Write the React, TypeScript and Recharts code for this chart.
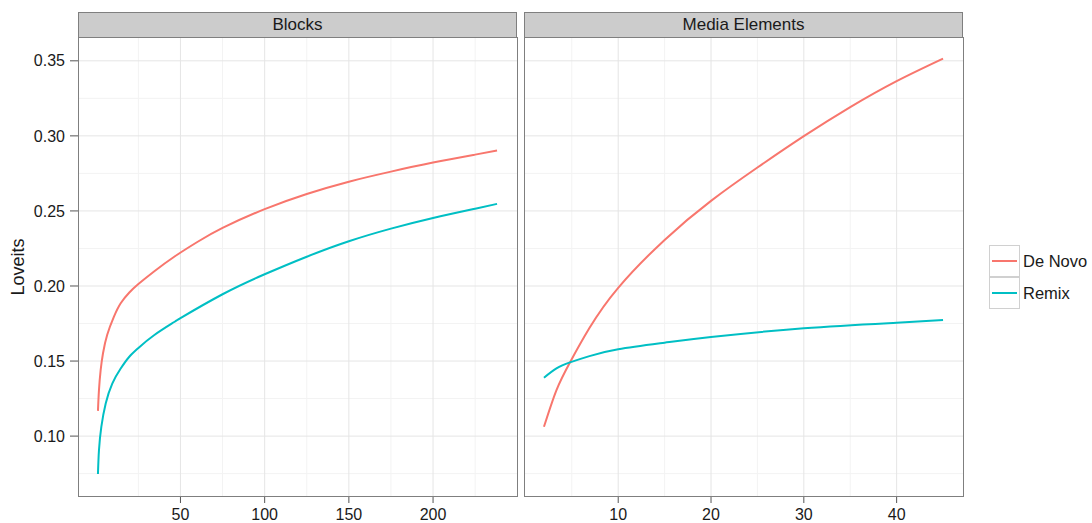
import { CartesianGrid, Line, LineChart, XAxis, YAxis } from 'recharts'

// values
const blocksDeNovoX = [
  1, 1.6, 2.6, 4, 6.5, 10.5, 14.5, 19.5, 25, 34.3, 46.3, 60, 75, 100, 125, 150, 175, 200, 225, 238,
]
const blocksDeNovoY = [
  0.1168, 0.1306, 0.1439, 0.1552, 0.1675, 0.1796, 0.1885, 0.1955, 0.2013, 0.2097, 0.2195, 0.2293,
  0.2387, 0.2512, 0.2613, 0.2695, 0.2762, 0.2822, 0.2875, 0.2902,
]
const blocksRemixX = [
  1, 1.6, 3, 5.6, 9.5, 14.5, 19.5, 25, 34.3, 46.3, 50, 75, 100, 125, 150, 175, 200, 225, 238,
]
const blocksRemixY = [
  0.0748, 0.0906, 0.1061, 0.1217, 0.135, 0.145, 0.1527, 0.1587, 0.1672, 0.176, 0.1786, 0.1945,
  0.2078, 0.2195, 0.2298, 0.2382, 0.2453, 0.2515, 0.2547,
]
const mediaDeNovoX = [2, 3.35, 4.8, 6.9, 10, 15, 20, 25, 30, 35, 40, 45]
const mediaDeNovoY = [
  0.1062, 0.1307, 0.1491, 0.172, 0.1988, 0.2307, 0.2567, 0.2789, 0.2998, 0.3192, 0.3365, 0.3515,
]
const mediaRemixX = [2, 3.35, 4.8, 6.9, 10, 15, 20, 30, 40, 45]
const mediaRemixY = [0.1389, 0.1451, 0.1491, 0.1533, 0.1578, 0.1622, 0.166, 0.1718, 0.1755, 0.1773]

const yTicks = [0.1, 0.15, 0.2, 0.25, 0.3, 0.35]
const yMinor = [0.075, 0.125, 0.175, 0.225, 0.275, 0.325]
const blocksTicks = [50, 100, 150, 200]
const blocksMinor = [25, 75, 125, 175, 225]
const mediaTicks = [10, 20, 30, 40]
const mediaMinor = [5, 15, 25, 35]

const seriesNames = ['De Novo', 'Remix']
const seriesColors = ['#F8766D', '#00BFC4']

const yDomain = [0.0601, 0.3652]
const blocksDomain = [-10.85, 249.85]
const mediaDomain = [-0.15, 47.15]

const FONT = '"Liberation Sans", Arial, Helvetica, sans-serif'
const BORDER = '#7F7F7F'

function pairs(xs: number[], ys: number[]) {
  return xs.map((x, i) => ({ x, y: ys[i] }))
}

interface PanelProps {
  title: string
  left: number
  showY: boolean
  xDomain: number[]
  xTicks: number[]
  xMinor: number[]
  series: { x: number; y: number }[][]
}

const PLOT_TOP = 38
const PLOT_BOTTOM = 496
const PLOT_W = 439
const Y_AXIS_W = 78

function Panel({ title, left, showY, xDomain, xTicks, xMinor, series }: PanelProps) {
  const axisW = showY ? Y_AXIS_W : 0
  const chartW = axisW + PLOT_W + 2
  const plotLeft = left + axisW
  return (
    <>
      <div
        style={{
          position: 'absolute',
          left: plotLeft,
          top: 12,
          width: PLOT_W,
          height: PLOT_TOP - 12,
          boxSizing: 'border-box',
          background: '#CCCCCC',
          border: `1.5px solid ${BORDER}`,
          fontSize: 17,
          color: '#1a1a1a',
          textAlign: 'center',
          lineHeight: `${PLOT_TOP - 15}px`,
        }}
      >
        {title}
      </div>
      <div style={{ position: 'absolute', left, top: 0 }}>
        <LineChart
          width={chartW}
          height={523}
          margin={{ top: PLOT_TOP, right: 2, bottom: 0, left: 0 }}
          style={{ fontFamily: FONT }}
        >
          <CartesianGrid
            stroke="#F3F3F3"
            strokeWidth={1}
            horizontalValues={yMinor}
            verticalValues={xMinor}
          />
          <CartesianGrid
            stroke="#E5E5E5"
            strokeWidth={1}
            horizontalValues={yTicks}
            verticalValues={xTicks}
          />
          <XAxis
            type="number"
            dataKey="x"
            domain={xDomain}
            ticks={xTicks}
            allowDataOverflow
            height={523 - PLOT_BOTTOM}
            axisLine={false}
            tickSize={7}
            tickMargin={6}
            tickLine={{ stroke: '#555555' }}
            tick={{ fontSize: 16, fill: '#1a1a1a' }}
          />
          <YAxis
            type="number"
            dataKey="y"
            hide={!showY}
            domain={yDomain}
            ticks={yTicks}
            allowDataOverflow
            width={axisW}
            axisLine={false}
            tickSize={8}
            tickMargin={5}
            tickLine={{ stroke: '#555555' }}
            tick={{ fontSize: 16, fill: '#1a1a1a' }}
            tickFormatter={(v: number) => v.toFixed(2)}
          />
          {series.map((data, i) => (
            <Line
              key={seriesNames[i]}
              data={data}
              dataKey="y"
              type="natural"
              stroke={seriesColors[i]}
              strokeWidth={2}
              dot={false}
              activeDot={false}
              isAnimationActive={false}
            />
          ))}
        </LineChart>
      </div>
      <div
        style={{
          position: 'absolute',
          left: plotLeft - 0.5,
          top: PLOT_TOP - 1,
          width: PLOT_W + 1,
          height: PLOT_BOTTOM - PLOT_TOP + 1.5,
          boxSizing: 'border-box',
          border: `1.5px solid ${BORDER}`,
          pointerEvents: 'none',
        }}
      />
    </>
  )
}

export default function App() {
  return (
    <div
      style={{
        position: 'absolute',
        left: 0,
        top: 0,
        width: 1092,
        height: 523,
        background: '#ffffff',
        fontFamily: FONT,
        overflow: 'hidden',
      }}
    >
      <Panel
        title="Blocks"
        left={0}
        showY
        xDomain={blocksDomain}
        xTicks={blocksTicks}
        xMinor={blocksMinor}
        series={[pairs(blocksDeNovoX, blocksDeNovoY), pairs(blocksRemixX, blocksRemixY)]}
      />
      <Panel
        title="Media Elements"
        left={524}
        showY={false}
        xDomain={mediaDomain}
        xTicks={mediaTicks}
        xMinor={mediaMinor}
        series={[pairs(mediaDeNovoX, mediaDeNovoY), pairs(mediaRemixX, mediaRemixY)]}
      />
      <div
        style={{
          position: 'absolute',
          left: 18,
          top: 267,
          transform: 'translate(-50%, -50%) rotate(-90deg)',
          fontSize: 18,
          color: '#1a1a1a',
          whiteSpace: 'nowrap',
        }}
      >
        Loveits
      </div>
      {seriesNames.map((name, i) => (
        <div key={name}>
          <div
            style={{
              position: 'absolute',
              left: 989,
              top: 245 + i * 32,
              width: 31,
              height: 32,
              boxSizing: 'border-box',
              border: '1.5px solid #D0D0D0',
            }}
          >
            <div
              style={{
                position: 'absolute',
                left: 2,
                right: 2,
                top: 14,
                height: 2,
                background: seriesColors[i],
              }}
            />
          </div>
          <div
            style={{
              position: 'absolute',
              left: 1023,
              top: 245 + i * 32,
              height: 32,
              lineHeight: '32px',
              fontSize: 16.5,
              color: '#1a1a1a',
              whiteSpace: 'nowrap',
            }}
          >
            {name}
          </div>
        </div>
      ))}
    </div>
  )
}
